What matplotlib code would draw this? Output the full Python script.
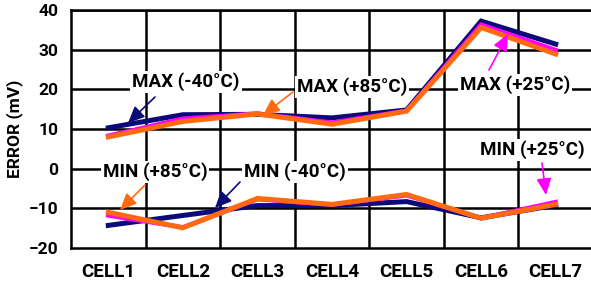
import matplotlib.pyplot as plt

cells = ["CELL1", "CELL2", "CELL3", "CELL4", "CELL5", "CELL6", "CELL7"]

# error in mV
max_m40 = [10.3, 13.6, 13.7, 12.8, 14.8, 37.2, 31.4]
max_p25 = [8.3, 12.6, 13.9, 11.6, 14.6, 36.3, 29.9]
max_p85 = [8.0, 11.9, 13.8, 11.2, 14.5, 35.6, 28.9]
min_m40 = [-14.3, -11.8, -9.3, -9.3, -8.3, -12.4, -9.2]
min_p25 = [-11.8, -14.8, -7.7, -9.1, -6.7, -12.5, -8.4]
min_p85 = [-11.0, -14.9, -7.5, -9.0, -6.5, -12.5, -9.0]

NAVY = "#0a0a78"
MAG = "#ff00ff"
ORANGE = "#ff6a10"

plt.rcParams['font.family'] = 'Roboto'
plt.rcParams['font.weight'] = 'bold'

fig = plt.figure(figsize=(5.91, 2.83), dpi=100)
ax = fig.add_axes([71 / 591, 1 - 248 / 283, 522 / 591, 238 / 283])

x = [i + 0.5 for i in range(len(cells))]
for m, p, o in [(max_m40, max_p25, max_p85), (min_m40, min_p25, min_p85)]:
    ax.plot(x, m, color=NAVY, lw=3.6, solid_joinstyle='miter', zorder=3)
    ax.plot(x, p, color=MAG, lw=3.2, solid_joinstyle='miter', zorder=4)
    ax.plot(x, o, color=ORANGE, lw=3.6, solid_joinstyle='miter', zorder=5)

ax.set_xlim(0, 7)
ax.set_ylim(-20, 40)
ax.set_yticks(range(-20, 41, 10))
ax.set_xticks(x)
ax.set_xticklabels(cells, fontweight='bold')
for lab in ax.get_yticklabels():
    lab.set_fontweight('bold')
ax.grid(False)
for v in range(1, 7):
    ax.axvline(v, color='black', lw=1.8, zorder=1)
for v in range(-10, 41, 10):
    ax.axhline(v, color='black', lw=1.8, zorder=1)
ax.tick_params(axis='both', which='both', length=0)
ax.tick_params(axis='y', pad=9, labelsize=12.5)
ax.tick_params(axis='x', pad=11, labelsize=13.5)
for s in ['top', 'left', 'bottom']:
    ax.spines[s].set_linewidth(1.8)
ax.spines['right'].set_visible(False)
ax.set_ylabel("ERROR (mV)", fontsize=12.5, fontweight='bold', labelpad=4)


def to_data(px, py):
    return ((px - 71) / 522 * 7, 40 - (py - 10) / 238 * 60)


def note(text, tx, ty, ax0, ay0, ax1, ay1, col):
    ax.text(*to_data(tx, ty), text, ha='center', va='center', fontsize=13.5,
            fontweight='bold', zorder=6,
            bbox=dict(facecolor='white', edgecolor='none', pad=1.5))
    ax.annotate("", xy=to_data(ax1, ay1), xytext=to_data(ax0, ay0), zorder=7,
                arrowprops=dict(arrowstyle='-|>,head_length=1.0,head_width=0.45',
                                color=col, lw=1.2, shrinkA=0, shrinkB=0))


note("MAX (-40°C)", 186, 82, 155, 97, 128, 123, NAVY)
note("MAX (+85°C)", 352, 87, 293, 92, 263, 115, ORANGE)
note("MAX (+25°C)", 515, 85, 489, 70, 508, 34, MAG)
note("MIN (+85°C)", 155, 172, 145, 185, 120, 210, ORANGE)
note("MIN (-40°C)", 295, 172, 240, 182, 215, 208, NAVY)
note("MIN (+25°C)", 532, 150, 542, 163, 546, 195, MAG)

fig.savefig("out.png", dpi=100)
